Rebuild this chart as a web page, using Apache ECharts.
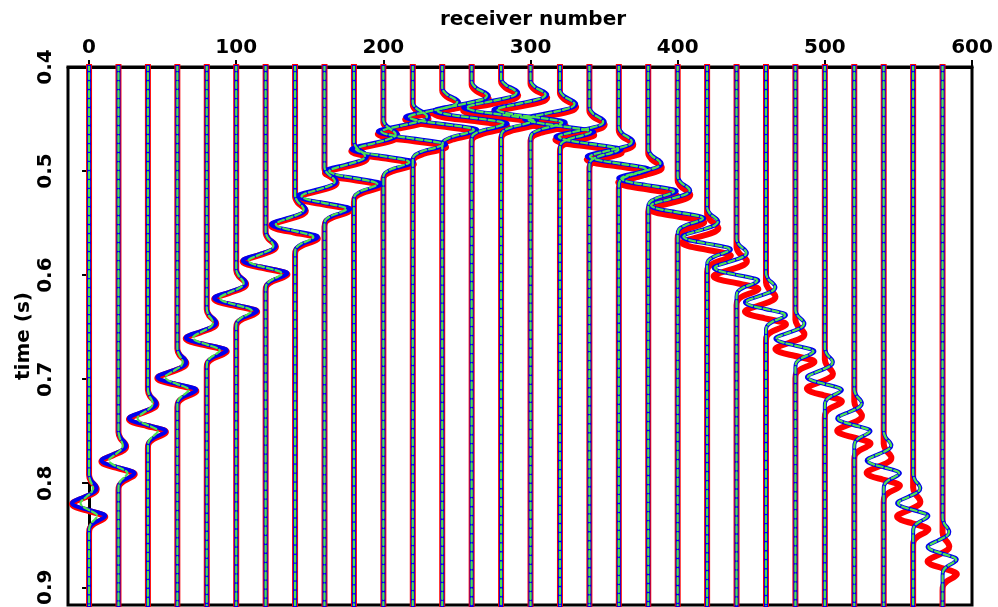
<!DOCTYPE html>
<html>
<head>
<meta charset="utf-8">
<script src="https://cdn.jsdelivr.net/npm/echarts@6/dist/echarts.min.js"></script>
<style>
html,body{margin:0;padding:0;background:#fff;}
#chart{width:998px;height:607px;}
</style>
</head>
<body>
<div id="chart"></div>
<script>
// receiver positions of the plotted traces
const receivers = [0,20,40,60,80,100,120,140,160,180,200,220,240,260,280,300,320,340,360,380,400,420,440,460,480,500,520,540,560,580];
// time (s) of the main (left) lobe of the blue trace
const arrivalBlue = [0.819,0.778,0.7375,0.698,0.660,0.622,0.586,0.551,0.524,0.500,0.479,0.462,0.448,0.442,0.439,0.441,0.450,0.467,0.486,0.507,0.533,0.563,0.593,0.626,0.661,0.698,0.7375,0.778,0.819,0.861];
// extra delay (s) of the red trace
const redDelay = [0.001,0.001,0.001,0.001,0.001,0.001,0.001,0.0015,0.0015,0.002,0.002,0.0025,0.0025,0.003,0.003,0.003,0.003,0.003,0.003,0.004,0.004,0.006,0.008,0.009,0.010,0.011,0.012,0.012,0.013,0.014];
// wiggle amplitude in receiver units (blue / red)
const ampBlue = [11.6,11.6,12.9,13.6,14.3,15.0,15.6,16.3,18.4,19.7,21.8,23.8,25.2,25.8,25.8,25.2,24.5,23.1,21.8,20.4,19.0,17.0,15.6,14.3,13.6,12.2,11.6,11.6,10.9,10.2];
// green amplitude relative to blue
const greenScale = [0.5,0.55,0.55,0.6,0.65,0.75,0.75,0.8,0.85,0.85,0.85,0.9,0.9,0.9,0.9,0.9,0.9,0.9,0.9,0.9,0.95,0.95,0.95,0.95,0.95,0.95,0.95,0.95,0.95,0.95];
// wavelet shape (time offset from main lobe, normalised amplitude)
const waveletDt = [-0.028,-0.022,-0.0175,-0.0145,-0.011,-0.006,-0.002,0,0.003,0.0065,0.0105,0.0125,0.0155,0.019,0.023,0.028];
const waveletShape = [0,0.12,0.36,0.45,0.33,-0.3,-0.88,-1.0,-0.78,-0.05,0.82,0.95,0.72,0.3,0.05,0];
// axis ticks
const xTicks = [0,100,200,300,400,500,600];
const yTicks = [0.4,0.5,0.6,0.7,0.8,0.9];

const X_MIN = -14.3, X_MAX = 600, T_MIN = 0.4, T_MAX = 0.917;

function buildTrace(i, amp, t0) {
  const x0 = receivers[i];
  const pts = [[x0, T_MIN - 0.02]];
  for (let k = 0; k < waveletDt.length; k++) {
    pts.push([x0 + amp * waveletShape[k], t0 + waveletDt[k]]);
  }
  pts.push([x0, T_MAX + 0.02]);
  return pts;
}

const series = [];
const styles = [
  {name:'red', color:'#ff0000', width:6, z:2, type:'solid'},
  {name:'blue', color:'#0000ee', width:4, z:3, type:'solid'},
  {name:'green', color:'#4fe34f', width:2.2, z:4, type:[6,3]}
];
styles.forEach(function(s){
  receivers.forEach(function(r, i){
    let amp = ampBlue[i], t0 = arrivalBlue[i];
    if (s.name === 'red') t0 += redDelay[i];
    if (s.name === 'green') amp *= greenScale[i];
    series.push({
      type:'line', name:s.name, z:s.z, data: buildTrace(i, amp, t0),
      showSymbol:false, symbol:'none', smooth:0.35, clip:true, silent:true,
      lineStyle:{color:s.color, width:s.width, type:s.type, cap:'round', join:'round'}
    });
  });
});

const font = '"DejaVu Sans", sans-serif';
const chart = echarts.init(document.getElementById('chart'), null, {renderer:'canvas'});
chart.setOption({
  animation:false,
  backgroundColor:'#fff',
  grid:{left:68, top:67, right:26, bottom:2, outerBoundsMode:'none', containLabel:false,
    show:true, borderColor:'#000', borderWidth:3, backgroundColor:'transparent'},
  xAxis:{
    type:'value', position:'top', min:X_MIN, max:X_MAX,
    name:'receiver number', nameLocation:'middle', nameGap:37,
    nameTextStyle:{fontFamily:font, fontWeight:'bold', fontSize:20, color:'#000', padding:[0,0,0,26]},
    axisLine:{show:true, lineStyle:{color:'#000', width:3}},
    axisTick:{show:true, length:7, lineStyle:{color:'#000', width:2}, customValues:xTicks},
    axisLabel:{show:true, margin:9, fontFamily:font, fontWeight:'bold', fontSize:20, color:'#000', customValues:xTicks},
    splitLine:{show:false}
  },
  yAxis:{
    type:'value', inverse:true, min:T_MIN, max:T_MAX,
    name:'time (s)', nameLocation:'middle', nameGap:34, nameRotate:90, nameMoveOverlap:false,
    nameTextStyle:{fontFamily:font, fontWeight:'bold', fontSize:20, color:'#000'},
    axisLine:{show:true, lineStyle:{color:'#000', width:3}},
    axisTick:{show:true, length:7, lineStyle:{color:'#000', width:2}, customValues:yTicks},
    axisLabel:{show:true, rotate:90, margin:12, fontFamily:font, fontWeight:'bold', fontSize:20, color:'#000',
      customValues:yTicks, formatter:function(v){return v.toFixed(1);}},
    splitLine:{show:false}
  },
  series: series
});
</script>
</body>
</html>
